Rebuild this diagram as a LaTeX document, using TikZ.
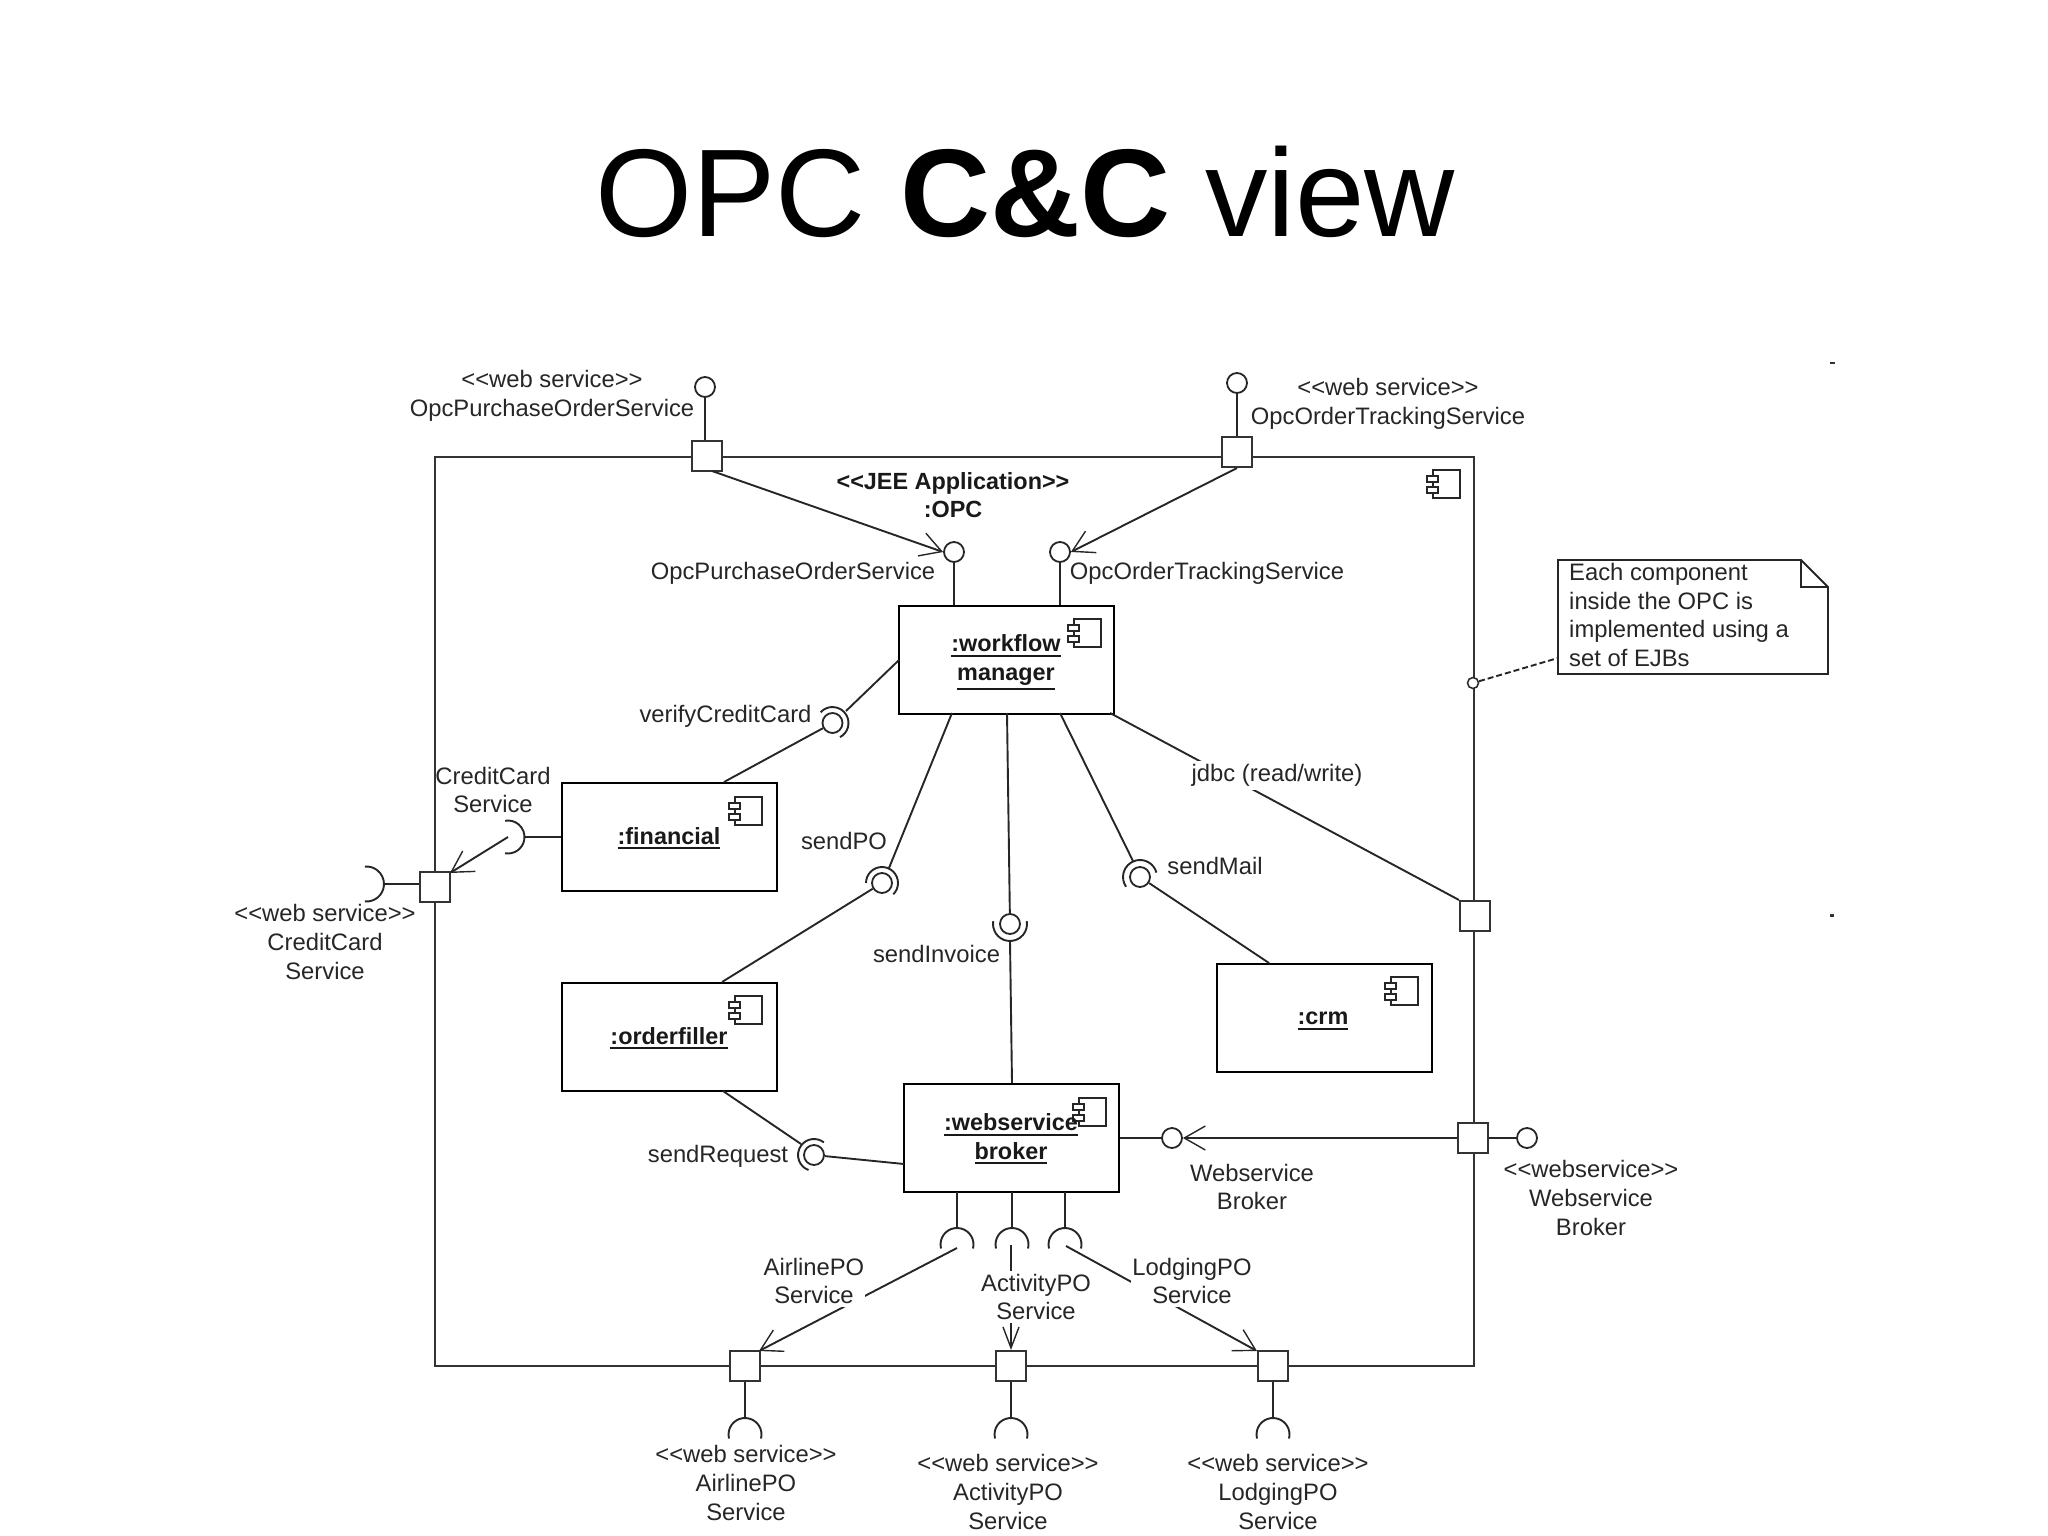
\documentclass[tikz,border=0pt]{standalone}
\usepackage{fontspec}
\setmainfont{Liberation Sans}
\usetikzlibrary{arrows.meta,calc}
\newcommand{\lblfont}{\fontsize{23.8}{28.7}\selectfont}
\newcommand{\bldfont}{\fontsize{23.4}{28.7}\selectfont\bfseries}
\newcommand{\ulab}[1]{\vtop{\hbox{#1}\kern2.6pt\hrule height 1.9pt}}
\newcommand{\oq}{<\kern0pt<}
\newcommand{\cq}{>\kern0pt>}
\newcommand{\compicon}[2]{%
  \draw[iconline] (#1-27,#2) rectangle (#1,#2+28);
  \draw[iconline,fill=white] (#1-33,#2+6) rectangle (#1-22,#2+12);
  \draw[iconline,fill=white] (#1-33,#2+17) rectangle (#1-22,#2+23);
}
% centre name, x, y, radius, start, delta
\newcommand{\socket}[6]{%
  \coordinate (#1) at (#2,#3);
  \draw[wire] ($(#1)+(#5:#4pt)$) arc[start angle=#5,delta angle=#6,radius=#4pt];
}
\tikzset{
  wire/.style={draw=black!85,line width=1.9pt},
  framebox/.style={draw=black!80,line width=2.4pt},
  iconline/.style={draw=black!85,line width=1.6pt},
  comp/.style={draw=black,line width=2.2pt,fill=white,minimum width=215pt,minimum height=108pt,inner sep=0pt},
  portbox/.style={draw=black!80,line width=2.1pt,fill=white,minimum width=30pt,minimum height=30pt,inner sep=0pt},
  ball/.style={circle,draw=black!85,line width=1.8pt,fill=white,minimum size=20pt,inner sep=0pt},
  smallball/.style={circle,draw=black!85,line width=1.5pt,fill=white,minimum size=11pt,inner sep=0pt},
  lab/.style={font=\lblfont,text=black!85,align=center,inner sep=1pt},
  blab/.style={font=\bldfont,text=black!90,align=center,inner sep=1pt},
  wlab/.style={lab,fill=white,inner ysep=3pt},
  oarrow/.style={wire,-{Straight Barb[length=21pt,width=24pt,line width=1.4pt]}},
  narrowarrow/.style={wire,-{Straight Barb[length=21pt,width=16pt,line width=1.4pt]}},
}
\begin{document}
\begin{tikzpicture}[x=1pt,y=-1pt]
\useasboundingbox (0,0) rectangle (2048,1536);

\node[anchor=base,inner sep=0pt,font=\fontsize{124.8}{130}\selectfont,text=black] (title) at (1025,236) {OPC \textbf{C\&C} view};

% frame
\node[framebox,anchor=north west,minimum width=1039pt,minimum height=909.5pt,inner sep=0pt] (opc) at (434,455.5) {};
\compicon{1460}{470}

% components
\node[comp,anchor=north west] (wf) at (898,605) {};
\node[comp,anchor=north west] (fin) at (561,782) {};
\node[comp,anchor=north west] (ord) at (561,982) {};
\node[comp,anchor=north west] (crm) at (1215.5,962.5) {};
\node[comp,anchor=north west] (wsb) at (903,1083) {};

\compicon{1101}{619}
\compicon{762}{797}
\compicon{762}{996}
\compicon{1418}{977}
\compicon{1106}{1098}

\node[blab] (wftxt) at (1006,662.5) {\ulab{:workflow}\\\ulab{manager}};
\node[blab] (fintxt) at (669,838.5) {\ulab{:financial}};
\node[blab] (ordtxt) at (669,1038.5) {\ulab{:orderfiller}};
\node[blab] (crmtxt) at (1323,1021) {\ulab{:crm}};
\node[blab] (wsbtxt) at (1011,1139) {\ulab{:webservice}\\\ulab{broker}};
\node[blab] (jee) at (953,495) {\oq JEE Application\cq\\:OPC};

% ports
\node[portbox] (p1) at (707,456) {};
\node[portbox] (p2) at (1237,452) {};
\node[portbox] (p3) at (435,887) {};
\node[portbox] (p4) at (1473,1138) {};
\node[portbox] (p5) at (1475,916) {};
\node[portbox] (p6) at (745,1366) {};
\node[portbox] (p7) at (1011,1366) {};
\node[portbox] (p8) at (1273,1366) {};

% provided interface balls
\node[ball] (c1) at (705,387) {};
\node[ball] (c2) at (1237,383) {};
\node[ball] (c3) at (954,552) {};
\node[ball] (c4) at (1060,552) {};
\node[ball] (c5) at (1172,1138) {};
\node[ball] (c6) at (1527,1138) {};
\draw[wire] (c1) -- (c1 |- p1.north);
\draw[wire] (c2) -- (p2.north);
\draw[wire] (c3) -- (c3 |- wf.north);
\draw[wire] (c4) -- (c4 |- wf.north);
\draw[wire] (p4) -- (c6);
\draw[wire] (wsb.east |- c5) -- (c5);
\draw[oarrow] (p4.west) -- (c5.east);
\coordinate (p1b) at (712,471);
\draw[oarrow] (p1b) -- (c3.west);
\draw[oarrow] (p2.south) -- (c4.east);

% assembly connectors
\coordinate (wfv) at (899,660);
\coordinate (finv) at (724,782);
\node[ball] (bv) at (832.5,723) {};
\socket{sv}{832.5}{723}{16}{-62}{200}
\draw[wire] (wfv) -- (846,711);
\draw[wire] (finv) -- (bv);

\coordinate (wfpo) at (952,713);
\coordinate (ordpo) at (722,982);
\node[ball] (bpo) at (882,883) {};
\socket{spo}{882}{883}{16}{-45}{225}
\draw[wire] (wfpo) -- (889,868);
\draw[wire] (ordpo) -- (bpo);

\coordinate (wfin) at (1007,713);
\coordinate (wsbin) at (1012,1083);
\node[ball] (bin) at (1010,924) {};
\socket{sin}{1010}{924}{17}{170}{200}
\draw[wire] (wfin) -- (bin);
\draw[wire] (wsbin) -- (1010,941);

\coordinate (wfm) at (1060,713);
\coordinate (crmm) at (1269,963);
\node[ball] (bm) at (1140,877) {};
\socket{sm}{1140}{877}{17}{15}{200}
\draw[wire] (wfm) -- (1133,861);
\draw[wire] (crmm) -- (bm);

\coordinate (ordr) at (723,1091);
\coordinate (wsbr) at (904,1164);
\node[ball] (br) at (814,1155) {};
\socket{sr}{814}{1155}{16}{52}{198}
\draw[wire] (ordr) -- (801,1144);
\draw[wire] (wsbr) -- (br);

% jdbc
\coordinate (wfj) at (1110,713);
\draw[wire] (wfj) -- (p5.north west);
\node[wlab] (jdbc) at (1277,775.5) {jdbc (read/write)};

% credit card
\socket{scc}{508}{837}{16.5}{-100}{200}
\draw[wire] (fin.west |- scc) -- (524.5,837);
\coordinate (p3tr) at (450,873);
\draw[oarrow] (scc) -- (p3tr);
\socket{socc}{366.5}{884}{17.5}{-95}{190}
\draw[wire] (p3.west |- socc) -- (384,884);

% bottom
\socket{s1}{957}{1244.5}{16.5}{-14}{208}
\socket{s2}{1012}{1244.5}{16.5}{-14}{208}
\socket{s3}{1065}{1244.5}{16.5}{-14}{208}
\draw[wire] (957,1192) -- (957,1228);
\draw[wire] (1012,1192) -- (1012,1228);
\draw[wire] (1065,1192) -- (1065,1228);
\coordinate (p6tr) at (759,1351);
\coordinate (p8tl) at (1257,1351);
\coordinate (s1a) at (957,1248);
\coordinate (s3a) at (1066,1246);
\coordinate (s2a) at (1011,1245);
\draw[oarrow] (s1a) -- (p6tr);
\draw[narrowarrow] (s2a) -- (p7.north);
\draw[oarrow] (s3a) -- (p8tl);
\node[wlab] (lair) at (814,1281) {AirlinePO\\Service};
\node[wlab] (lact) at (1036,1297) {ActivityPO\\Service};
\node[wlab] (llod) at (1192,1281) {LodgingPO\\Service};

\socket{o1}{745}{1434.5}{16.5}{-14}{208}
\socket{o2}{1011}{1434.5}{16.5}{-14}{208}
\socket{o3}{1273}{1434.5}{16.5}{-14}{208}
\draw[wire] (p6.south) -- (745,1418);
\draw[wire] (p7.south) -- (1011,1418);
\draw[wire] (p8.south) -- (1273,1418);

% note
\coordinate (n1) at (1558,560);
\coordinate (n2) at (1801,560);
\coordinate (n3) at (1828,587);
\coordinate (n4) at (1828,674);
\coordinate (n5) at (1558,674);
\coordinate (n6) at (1801,587);
\draw[wire] (n1) -- (n2) -- (n3) -- (n4) -- (n5) -- cycle;
\draw[wire,line width=1.3pt] (n2) -- (n6) -- (n3);
\node[lab,anchor=north west,align=left] (note) at (1568,562) {Each component\\inside the OPC is\\implemented using a\\set of EJBs};
\node[smallball] (nb) at (1473,683) {};
\coordinate (nl) at (1558,658);
\draw[wire,dashed,dash pattern=on 6pt off 3pt] (nb) -- (nl);

% labels
\node[lab] (l1) at (552,395.5) {\oq web service\cq\\OpcPurchaseOrderService};
\node[lab] (l2) at (1388,403.5) {\oq web service\cq\\OpcOrderTrackingService};
\node[lab] (l3) at (793,573.5) {OpcPurchaseOrderService};
\node[lab] (l4) at (1207,573.5) {OpcOrderTrackingService};
\node[lab] (l5) at (725.5,716.5) {verifyCreditCard};
\node[lab] (l6) at (493,790) {CreditCard\\Service};
\node[lab] (l7) at (325,942) {\oq web service\cq\\CreditCard\\Service};
\node[lab] (l8) at (844,841) {sendPO};
\node[lab] (l9) at (936.5,954) {sendInvoice};
\node[lab] (l10) at (1215,866) {sendMail};
\node[lab] (l11) at (718,1156.5) {sendRequest};
\node[lab] (l12) at (1252,1187) {Webservice\\Broker};
\node[lab] (l13) at (1591,1198) {\oq webservice\cq\\Webservice\\Broker};
\node[lab] (l14) at (746,1483) {\oq web service\cq\\AirlinePO\\Service};
\node[lab] (l15) at (1008,1492) {\oq web service\cq\\ActivityPO\\Service};
\node[lab] (l16) at (1278,1492) {\oq web service\cq\\LodgingPO\\Service};

% specks
\fill[black!80] (1830,362) rectangle (1835,364);
\fill[black!80] (1830,914) rectangle (1834,917);
\end{tikzpicture}
\end{document}
